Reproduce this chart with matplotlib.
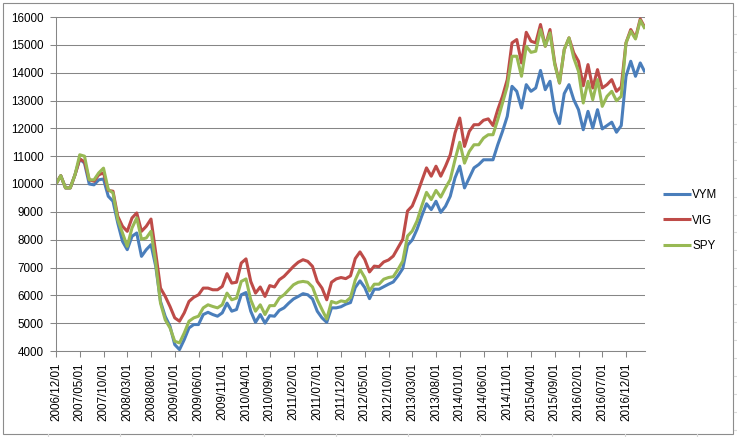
import matplotlib
matplotlib.use("Agg")
import matplotlib.pyplot as plt
from matplotlib.patches import Rectangle
from matplotlib.lines import Line2D

# ---- data (monthly, 2006/12 .. 2017/04) ----
vym = [10000, 10300, 9860, 9860, 10330, 10900, 10750, 10000, 9970, 10150,
       10180, 9560, 9380, 8600, 7940, 7640, 8120, 8240, 7400, 7640,
       7820, 7040, 5780, 5240, 4890, 4230, 4050, 4410, 4830, 4950,
       4950, 5310, 5390, 5310, 5250, 5370, 5720, 5430, 5490, 6020,
       6100, 5430, 5030, 5310, 5000, 5270, 5250, 5460, 5550, 5720,
       5870, 5960, 6060, 6020, 5870, 5430, 5190, 5030, 5550, 5550,
       5590, 5680, 5740, 6280, 6520, 6280, 5880, 6220, 6220, 6310,
       6400, 6480, 6700, 6960, 7800, 7990, 8370, 8850, 9290, 9080,
       9380, 8980, 9200, 9560, 10220, 10640, 9860, 10220, 10580, 10700,
       10870, 10870, 10870, 11410, 11890, 12430, 13510, 13330, 12730, 13570,
       13330, 13450, 14080, 13390, 13690, 12610, 12170, 13250, 13570, 13030,
       12670, 11950, 12610, 12010, 12670, 11980, 12100, 12220, 11860, 12100,
       13870, 14410, 13870, 14350, 14010]
vig = [10000, 10300, 9860, 9860, 10330, 10900, 10800, 10150, 10100, 10330,
       10400, 9770, 9740, 8840, 8480, 8300, 8780, 8960, 8300, 8480,
       8740, 7520, 6260, 5960, 5600, 5190, 5070, 5370, 5780, 5930,
       6020, 6260, 6260, 6200, 6200, 6320, 6780, 6440, 6470, 7160,
       7310, 6500, 6080, 6300, 5960, 6350, 6300, 6560, 6680, 6860,
       7040, 7190, 7280, 7220, 7040, 6500, 6260, 5840, 6470, 6590,
       6640, 6600, 6700, 7320, 7560, 7290, 6840, 7050, 7030, 7200,
       7270, 7410, 7710, 8010, 9030, 9210, 9630, 10110, 10580, 10280,
       10640, 10280, 10640, 11050, 11830, 12370, 11350, 11890, 12130, 12130,
       12290, 12340, 12100, 12670, 13150, 13750, 15070, 15190, 14350, 15450,
       15130, 15070, 15730, 14950, 15550, 14350, 13630, 14830, 15250, 14710,
       14410, 13530, 14290, 13450, 14110, 13450, 13570, 13750, 13330, 13490,
       15070, 15550, 15250, 15930, 15610]
spy = [10000, 10300, 9860, 9860, 10330, 11050, 11000, 10150, 10150, 10400,
       10570, 9800, 9680, 8720, 8240, 7760, 8420, 8780, 8020, 8060,
       8300, 7160, 5720, 5120, 4830, 4350, 4290, 4650, 5070, 5190,
       5250, 5550, 5660, 5600, 5550, 5660, 6080, 5840, 5900, 6500,
       6590, 5840, 5430, 5660, 5310, 5630, 5630, 5900, 6020, 6200,
       6380, 6470, 6500, 6470, 6300, 5840, 5490, 5150, 5780, 5720,
       5800, 5770, 5920, 6550, 6930, 6640, 6160, 6400, 6400, 6580,
       6640, 6670, 6930, 7230, 8130, 8310, 8670, 9210, 9700, 9440,
       9770, 9530, 9860, 10160, 10870, 11500, 10750, 11170, 11410, 11410,
       11650, 11770, 11770, 12310, 12910, 13510, 14590, 14590, 13870, 14950,
       14730, 14770, 15550, 14950, 15430, 14290, 13630, 14830, 15250, 14530,
       14050, 12910, 13690, 13030, 13750, 12790, 13150, 13330, 12990, 13150,
       15070, 15490, 15210, 15880, 15570]
series_names = ["VYM", "VIG", "SPY"]
series_colors = ["#4A7EBB", "#BE4B48", "#98B954"]
tick_labels = ["2006/12/01", "2007/05/01", "2007/10/01", "2008/03/01", "2008/08/01",
               "2009/01/01", "2009/06/01", "2009/11/01", "2010/04/01", "2010/09/01",
               "2011/02/01", "2011/07/01", "2011/12/01", "2012/05/01", "2012/10/01",
               "2013/03/01", "2013/08/01", "2014/01/01", "2014/06/01", "2014/11/01",
               "2015/04/01", "2015/09/01", "2016/02/01", "2016/07/01", "2016/12/01"]
y_ticks = list(range(4000, 16001, 1000))

W, H = 737, 437
fig = plt.figure(figsize=(W / 100, H / 100), dpi=100)
fig.patch.set_facecolor("white")

# faint spreadsheet cell lines outside the chart object
for xc in [48, 120, 192, 264, 336, 408, 480, 552, 625, 697]:
    fig.add_artist(Line2D([xc / W, xc / W], [0, 3 / H], color="#d9d9d9", lw=0.8))
for yc in [160, 178, 197, 215, 232, 250, 268, 286, 304, 322, 340, 358, 376, 394, 412, 430,
           142, 124, 106, 88, 70, 52, 34, 16]:
    fig.add_artist(Line2D([734 / W, 1], [1 - yc / H, 1 - yc / H], color="#d9d9d9", lw=0.8))
# chart border
fig.add_artist(Rectangle((3 / W, 1 - 434 / H), 730 / W, 431 / H, fill=False,
                         edgecolor="#8c8c8c", lw=0.8, transform=fig.transFigure))

left, right, top, bottom = 56, 645, 17, 351
ax = fig.add_axes([left / W, 1 - bottom / H, (right - left) / W, (bottom - top) / H])
x = list(range(len(vym)))
for vals, name, col in zip([vym, vig, spy], series_names, series_colors):
    ax.plot(x, vals, color=col, lw=2.2, label=name, solid_joinstyle="round",
            solid_capstyle="butt")

ax.set_xlim(0, len(vym) - 1)
ax.set_ylim(4000, 16000)
ax.set_yticks(y_ticks)
ax.set_yticklabels([str(v) for v in y_ticks])
ax.set_xticks(list(range(0, len(vym), 5)))
ax.set_xticklabels(tick_labels, rotation=90)
ax.grid(axis="y", color="#868686", lw=0.75)
ax.set_axisbelow(True)
for s in ["top", "right"]:
    ax.spines[s].set_visible(False)
for s in ["left", "bottom"]:
    ax.spines[s].set_color("#868686")
    ax.spines[s].set_linewidth(0.75)
ax.tick_params(axis="both", colors="#868686", length=4, width=0.75, direction="out",
               labelcolor="black", labelsize=8.4)
ax.tick_params(axis="y", pad=5)
ax.tick_params(axis="x", pad=4.5)
for lab in ax.get_xticklabels() + ax.get_yticklabels():
    lab.set_fontfamily("Liberation Sans")

leg = fig.legend(loc="upper left", bbox_to_anchor=(652 / W, 1 - 179 / H), frameon=False,
                 handlelength=2.4, handletextpad=0.15, labelspacing=1.12,
                 prop={"family": "Liberation Sans", "size": 8.4})

fig.savefig("out.png", dpi=100, facecolor="white")
